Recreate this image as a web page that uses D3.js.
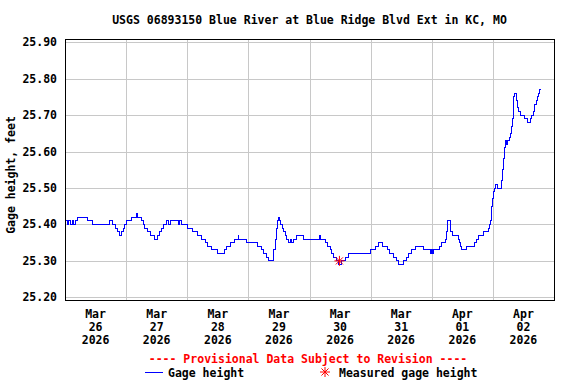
<!DOCTYPE html>
<html>
<head>
<meta charset="utf-8">
<title>USGS 06893150 Blue River</title>
<script src="https://d3js.org/d3.v7.min.js"></script>
<style>
    body { margin: 0; background: #fff; }
    svg text { font-family: "DejaVu Sans Mono", monospace; font-weight: bold; font-size: 11.5px; }
</style>
</head>
<body>
<div id="chart"></div>
<script>
var title = "USGS 06893150 Blue River at Blue Ridge Blvd Ext in KC, MO";
var yTitle = "Gage height, feet";
var notice = "---- Provisional Data Subject to Revision ----";
var legendLine = "Gage height";
var legendStar = "Measured gage height";

// hours after Mar 26 2026 00:00, and the gage height (ft) from that hour on
var hours = [0, 0.8, 1.5, 2.3, 3.0, 3.5, 4.3, 4.8, 8.8, 10.7, 17.4, 18.5, 19.7, 20.5, 21.5, 22.0, 22.9, 23.3,
    24.2, 26.2, 27.9, 28.3, 30.1, 30.8, 31.4, 32.4, 33.4, 35.0, 36.5, 37.3, 38.0, 38.6, 39.7, 40.6, 41.5, 44.4, 44.8, 45.9,
    48.1, 50.0, 52.0, 53.4, 55.0, 56.0, 57.6, 59.9, 62.5, 63.5, 64.9, 66.4, 68.0, 68.3, 71.1,
    75.6, 77.3, 77.9, 79.3, 79.9, 82.0, 82.5, 82.9, 83.5, 83.9, 84.3, 84.8, 85.3, 85.8, 86.5, 87.1, 87.8, 88.4, 89.1, 89.7,
    91.0, 93.7, 100.0, 100.4, 102.2, 103.2, 104.1, 104.8, 105.5, 106.5, 107.3, 108.7, 110.3, 111.5,
    120.0, 121.8, 123.2, 124.8, 126.7, 127.5, 129.0, 130.1, 131.0, 133.1, 134.0, 135.0, 135.9, 137.6, 140.6, 143.5,
    143.8, 144.2, 144.6, 145.4, 147.0, 148.0, 149.3, 149.7, 150.0, 150.3, 151.2, 151.5, 152.0, 154.4, 154.8, 155.2, 155.6,
    157.8, 160.6, 161.5, 162.4, 164.4, 166.4, 166.8, 167.0, 167.3, 167.6, 168.0, 168.4, 168.7, 169.2, 169.9,
    171.4, 171.7, 172.0, 172.4, 172.8, 173.2, 173.7, 174.5, 175.1, 175.4, 175.7, 176.0, 176.2, 176.5, 177.1, 177.4,
    177.8, 178.2, 178.8, 180.5, 181.6, 182.9, 183.3, 184.0, 184.5, 185.0, 185.5, 186.1, 186.5, 186.75];
var gage = [25.41, 25.40, 25.41, 25.40, 25.41, 25.40, 25.41, 25.42, 25.41, 25.40, 25.41, 25.40, 25.39, 25.38, 25.37, 25.38, 25.39, 25.40,
    25.41, 25.42, 25.43, 25.42, 25.41, 25.40, 25.39, 25.38, 25.37, 25.36, 25.37, 25.38, 25.39, 25.40, 25.41, 25.40, 25.41, 25.40, 25.41, 25.40,
    25.39, 25.38, 25.37, 25.36, 25.35, 25.34, 25.33, 25.32, 25.33, 25.34, 25.35, 25.36, 25.37, 25.36, 25.35,
    25.34, 25.33, 25.32, 25.31, 25.30, 25.33, 25.36, 25.39, 25.41, 25.42, 25.41, 25.40, 25.39, 25.38, 25.37, 25.36, 25.35, 25.36, 25.35, 25.36,
    25.37, 25.36, 25.37, 25.36, 25.35, 25.34, 25.33, 25.32, 25.31, 25.30, 25.29, 25.30, 25.31, 25.32,
    25.33, 25.34, 25.35, 25.34, 25.33, 25.32, 25.31, 25.30, 25.29, 25.30, 25.31, 25.32, 25.33, 25.34, 25.33, 25.32,
    25.33, 25.32, 25.33, 25.33, 25.34, 25.35, 25.36, 25.38, 25.39, 25.41, 25.40, 25.38, 25.37, 25.36, 25.35, 25.34, 25.33,
    25.34, 25.35, 25.36, 25.37, 25.38, 25.39, 25.40, 25.41, 25.43, 25.45, 25.47, 25.49, 25.50, 25.51, 25.50,
    25.52, 25.55, 25.58, 25.61, 25.63, 25.62, 25.63, 25.64, 25.65, 25.67, 25.69, 25.72, 25.75, 25.76, 25.75, 25.74,
    25.72, 25.71, 25.70, 25.69, 25.68, 25.69, 25.70, 25.71, 25.73, 25.74, 25.75, 25.76, 25.77, 25.77];

var measuredHour = [107.75];
var measuredGage = [25.30];

var yTicks = [25.20, 25.30, 25.40, 25.50, 25.60, 25.70, 25.80, 25.90];
var dayLabels = [["Mar", "26", "2026"], ["Mar", "27", "2026"], ["Mar", "28", "2026"], ["Mar", "29", "2026"],
    ["Mar", "30", "2026"], ["Mar", "31", "2026"], ["Apr", "01", "2026"], ["Apr", "02", "2026"]];

var W = 576, H = 384;
var pLeft = 65, pRight = 554, pTop = 39, pBottom = 300;
var t0 = Date.UTC(2026, 2, 26);
var hr = 3600 * 1000;
function toDate(h) { return new Date(t0 + h * hr); }

var x = d3.scaleUtc()
    .domain([toDate(0), toDate(24 * 8)])
    .range([pLeft, pRight]);
var y = d3.scaleLinear()
    .domain([25.1926, 25.909])
    .range([pBottom, pTop]);

var svg = d3.select("#chart").append("svg")
    .attr("width", W)
    .attr("height", H);

// grid
var grid = svg.append("g").attr("shape-rendering", "crispEdges");
grid.selectAll("line.v")
    .data(d3.range(1, 8))
    .enter().append("line")
    .attr("x1", function(d) { return Math.round(x(toDate(d * 24))) + 0.5; })
    .attr("x2", function(d) { return Math.round(x(toDate(d * 24))) + 0.5; })
    .attr("y1", pTop).attr("y2", pBottom)
    .attr("stroke", "#c8c8c8");
grid.selectAll("line.h")
    .data(yTicks)
    .enter().append("line")
    .attr("x1", pLeft).attr("x2", pRight)
    .attr("y1", function(d) { return Math.round(y(d)) + 0.5; })
    .attr("y2", function(d) { return Math.round(y(d)) + 0.5; })
    .attr("stroke", "#c8c8c8");

// y tick labels
svg.selectAll("text.ytick")
    .data(yTicks)
    .enter().append("text")
    .attr("x", 57)
    .attr("y", function(d) { return y(d) + 4; })
    .attr("text-anchor", "end")
    .text(function(d) { return d.toFixed(2); });

// x tick labels, centred on noon
var xl = svg.selectAll("text.xtick")
    .data(dayLabels)
    .enter().append("text")
    .attr("text-anchor", "middle")
    .attr("transform", function(d, i) { return "translate(" + x(toDate(i * 24 + 12)) + ",318)"; });
xl.selectAll("tspan")
    .data(function(d) { return d; })
    .enter().append("tspan")
    .attr("x", 0)
    .attr("y", function(d, i) { return i * 13; })
    .text(function(d) { return d; });

// data line
var line = d3.line()
    .x(function(d) { return x(toDate(d[0])); })
    .y(function(d) { return y(d[1]); })
    .curve(d3.curveStepAfter);
var pts = hours.map(function(h, i) { return [h, gage[i]]; });
svg.append("path")
    .datum(pts)
    .attr("d", line)
    .attr("fill", "none")
    .attr("stroke", "#0000ff")
    .attr("stroke-width", 1)
    .attr("shape-rendering", "crispEdges");

function star(g, cx, cy, r) {
    [0, 45, 90, 135].forEach(function(a) {
        var dx = Math.cos(a * Math.PI / 180) * r, dy = Math.sin(a * Math.PI / 180) * r;
        g.append("line")
            .attr("x1", cx - dx).attr("y1", cy - dy)
            .attr("x2", cx + dx).attr("y2", cy + dy)
            .attr("stroke", "#ff0000").attr("stroke-width", 1);
    });
}
measuredHour.forEach(function(h, i) {
    star(svg.append("g"), x(toDate(h)), y(measuredGage[i]), 5);
});

// frame
svg.append("rect")
    .attr("x", pLeft + 0.5).attr("y", pTop + 0.5)
    .attr("width", pRight - pLeft).attr("height", pBottom - pTop)
    .attr("fill", "none").attr("stroke", "#000")
    .attr("shape-rendering", "crispEdges");

// titles
svg.append("text")
    .attr("x", (pLeft + pRight) / 2).attr("y", 24)
    .attr("text-anchor", "middle")
    .text(title);
svg.append("text")
    .attr("transform", "translate(15,175) rotate(-90)")
    .attr("text-anchor", "middle")
    .text(yTitle);

// legend
svg.append("text")
    .attr("x", 308).attr("y", 363)
    .attr("text-anchor", "middle")
    .attr("fill", "#ff0000")
    .text(notice);
svg.append("line")
    .attr("x1", 145).attr("x2", 163)
    .attr("y1", 372.5).attr("y2", 372.5)
    .attr("stroke", "#0000ff");
svg.append("text")
    .attr("x", 168).attr("y", 377)
    .text(legendLine);
star(svg.append("g"), 325, 372, 5);
svg.append("text")
    .attr("x", 339).attr("y", 377)
    .text(legendStar);
</script>
</body>
</html>
